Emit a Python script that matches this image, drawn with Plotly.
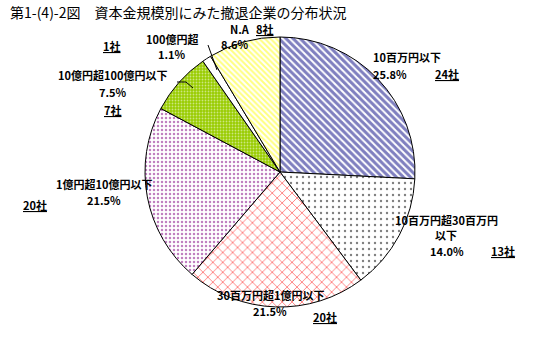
import plotly.graph_objects as go

W, H = 545, 340

# ---- data ----
categories = ["10百万円以下", "10百万円超30百万円以下", "30百万円超1億円以下",
              "1億円超10億円以下", "10億円超100億円以下", "100億円超", "N.A"]
companies = [24, 13, 20, 20, 7, 1, 8]
percent_labels = ["25.8%", "14.0%", "21.5%", "21.5%", "7.5%", "1.1%", "8.6%"]
display_names = [["10百万円以下"], ["10百万円超30百万円", "以下"], ["30百万円超1億円以下"],
                 ["1億円超10億円以下"], ["10億円超100億円以下"], ["100億円超"], ["N.A"]]
title_text = "第1-(4)-2図　資本金規模別にみた撤退企業の分布状況"

# ---- styles ----
fg = ["#000080", "#000000", "#ff0000", "#800080", "#ffffff", "#ffffff", "#ffff00"]
bg = ["#ffffff", "#ffffff", "#ffffff", "#ffffff", "#99cc00", "#ffffff", "#ffffff"]
shapes = ["\\", ".", "x", ".", ".", "", "\\"]
psize = [5, 6, 7, 4, 3, 4, 4]
solid = [0.6, 0.12, 0.25, 0.3, 0.3, 0.2, 0.5]

# label positions in pixels: (name_xy (first line), pct_xy, count_xy)
label_pos = [
    ((407, 57), (390, 74), (447, 74)),
    ((446, 220), (447, 251), (503, 251)),
    ((270, 295), (270, 311), (325, 317)),
    ((104, 184), (104, 200), (35, 205)),
    ((112, 75), (113, 92), (113, 110)),
    ((172, 39), (172, 54), (112, 46)),
    ((240, 29), (235, 44), (265, 29)),
]
line_gap = 15

cx, cy, r = 280, 172, 135

fig = go.Figure(go.Pie(
    labels=categories,
    values=companies,
    sort=False,
    direction="clockwise",
    rotation=0,
    textinfo="none",
    hoverinfo="label+value",
    marker=dict(
        colors=bg,
        line=dict(color="#000000", width=1),
        pattern=dict(shape=shapes, fgcolor=fg, bgcolor=bg, size=psize, solidity=solid,
                     fillmode="overlay"),
    ),
    domain=dict(x=[(cx - r) / W, (cx + r) / W], y=[(H - cy - r) / H, (H - cy + r) / H]),
    showlegend=False,
))

font = dict(family="Noto Sans CJK JP", size=11, color="#000000")
anns = []

def px(x, y):
    return x / W, 1 - y / H

for i in range(len(categories)):
    (nx, ny), (qx, qy), (kx, ky) = label_pos[i]
    items = [((nx, ny + j * line_gap), "<b>" + ln + "</b>") for j, ln in enumerate(display_names[i])]
    items += [((qx, qy), "<b>" + percent_labels[i] + "</b>"),
              ((kx, ky), "<b><u>%d社</u></b>" % companies[i])]
    for (x, y), t in items:
        ax, ay = px(x, y)
        anns.append(dict(x=ax, y=ay, xref="paper", yref="paper", text=t, showarrow=False,
                         font=font, xanchor="center", yanchor="middle", borderpad=0))

anns.append(dict(x=8 / W, y=1 - 12 / H, xref="paper", yref="paper", text=title_text,
                 showarrow=False, font=dict(family="Noto Sans CJK JP", size=14, color="#000"),
                 xanchor="left", yanchor="middle"))

leader_lines = [
    [(208, 45), (217, 70)],
    [(177, 82), (186, 82), (193, 88)],
]
shp = []
for pts in leader_lines:
    for (x0, y0), (x1, y1) in zip(pts[:-1], pts[1:]):
        a0, b0 = px(x0, y0)
        a1, b1 = px(x1, y1)
        shp.append(dict(type="line", xref="paper", yref="paper", x0=a0, y0=b0, x1=a1, y1=b1,
                        line=dict(color="#000", width=1)))

fig.update_layout(
    width=W, height=H,
    margin=dict(l=0, r=0, t=0, b=0),
    paper_bgcolor="#ffffff",
    plot_bgcolor="#ffffff",
    annotations=anns,
    shapes=shp,
)
fig.write_html("out.html")
